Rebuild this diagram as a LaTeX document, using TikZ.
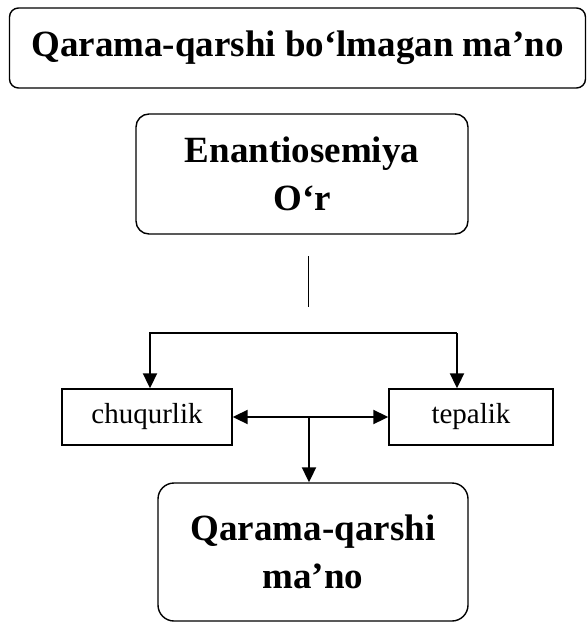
\documentclass[tikz,border=0pt]{standalone}
\usepackage{fontspec}
\setmainfont{Liberation Serif}
\usetikzlibrary{arrows.meta}

\begin{document}
\begin{tikzpicture}[x=1pt,y=-1pt,
        >={Triangle[length=15pt,width=14pt]},
        roundbox/.style={draw,line width=1.4pt,rounded corners=13pt,align=center,
            inner sep=0pt,font=\bfseries\fontsize{37}{48}\selectfont},
        plainbox/.style={draw,line width=1.4pt,inner sep=0pt,
            font=\fontsize{29}{35}\selectfont},
        link/.style={line width=2pt,->}]
        \useasboundingbox (0,0) rectangle (587,624);
        % --- Boxes ---
        \node[roundbox,rounded corners=9pt,minimum width=576pt,minimum height=80pt]
            (title) at (297.5,48) {Qarama-qarshi bo‘lmagan ma’no};
        \node[roundbox,minimum width=332pt,minimum height=120pt]
            (enant) at (302,174) {Enantiosemiya\\O‘r};
        \node[plainbox,minimum width=170pt,minimum height=56pt]
            (chuq) at (147,417) {chuqurlik};
        \node[plainbox,minimum width=164pt,minimum height=56pt]
            (tepa) at (471,417) {tepalik};
        \node[roundbox,rounded corners=16pt,minimum width=310pt,minimum height=138pt]
            (qarshi) at (313,552) {Qarama-qarshi\\ma’no};
        % --- Connectors ---
        \coordinate (stemtop) at (308,256);
        \coordinate (stembot) at (308,307);
        \draw[line width=1pt] (stemtop) -- (stembot);
        \coordinate (forkl) at (150,333);
        \coordinate (forkr) at (457,333);
        \draw[link] (forkr) -- (forkl) -- (forkl |- chuq.north);
        \draw[link] (forkr) -- (forkr |- tepa.north);
        \draw[link,<->] (chuq.east) -- (tepa.west);
        \coordinate (hub) at (309,417);
        \draw[link] (hub) -- (hub |- qarshi.north);
    \end{tikzpicture}
\end{document}
